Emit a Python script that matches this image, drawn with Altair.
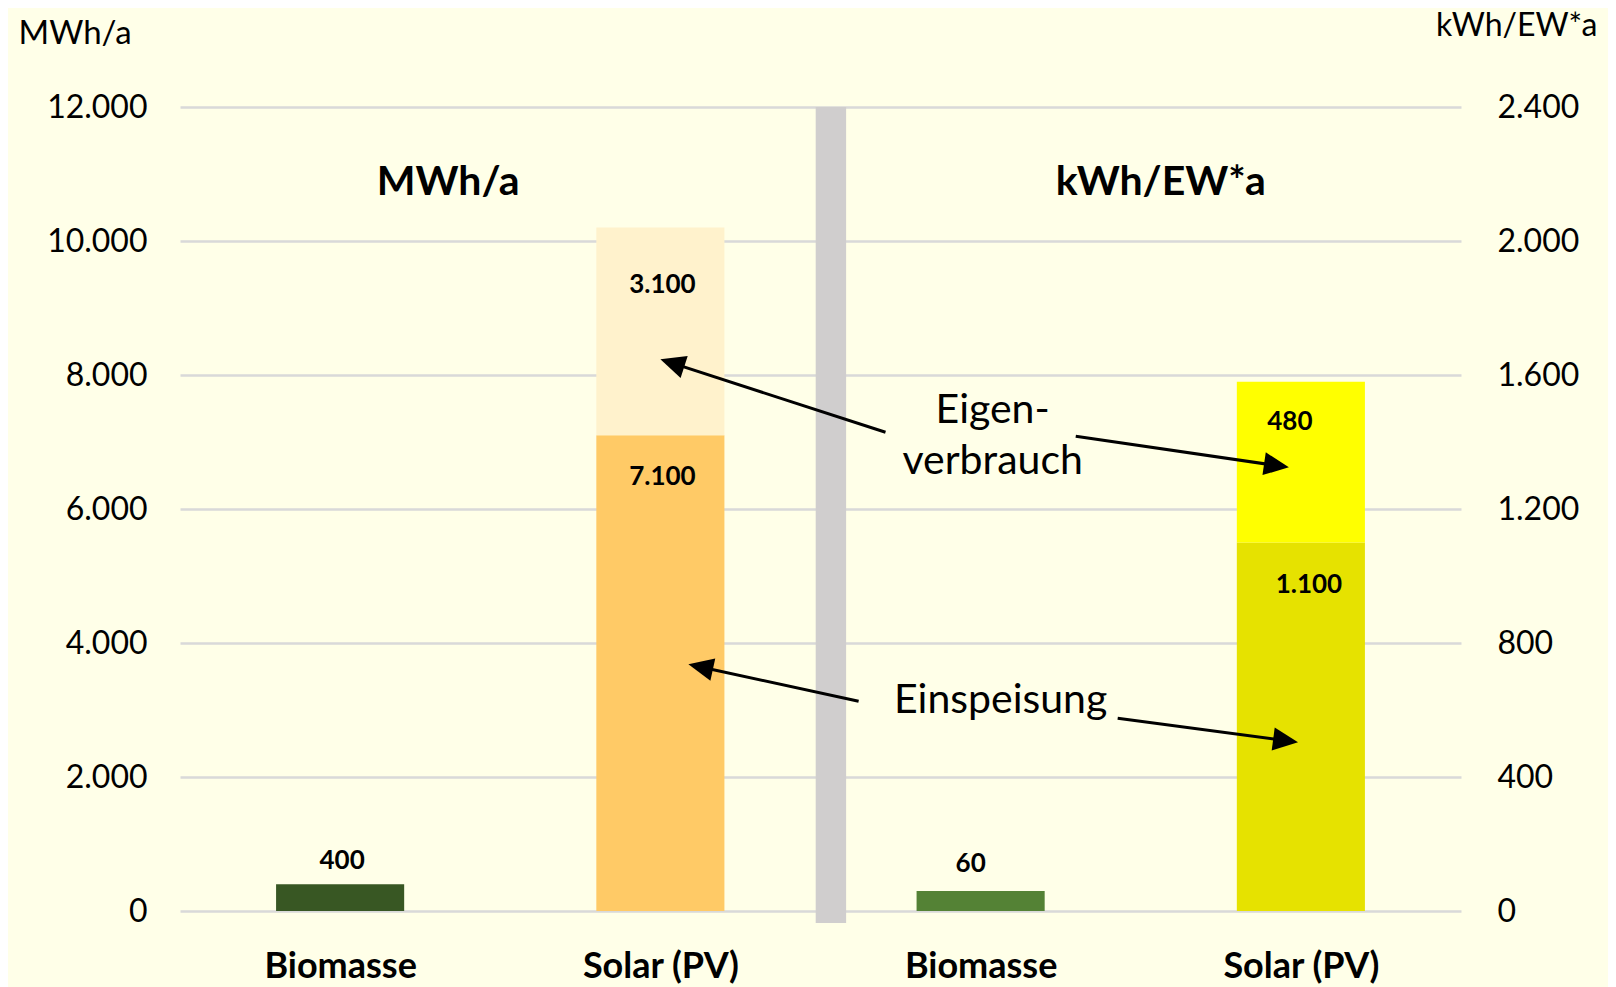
import math
import altair as alt
import pandas as pd

# ---------------- data ----------------
categories = ["Biomasse", "Solar (PV)"]
mwh_einspeisung = [400, 7100]          # MWh/a
mwh_eigenverbrauch = [0, 3100]         # MWh/a
kwh_einspeisung = [60, 1100]           # kWh/EW*a
kwh_eigenverbrauch = [0, 480]          # kWh/EW*a
left_ticks = [0, 2000, 4000, 6000, 8000, 10000, 12000]
right_ticks = [0, 400, 800, 1200, 1600, 2000, 2400]
panel_titles = ["MWh/a", "kWh/EW*a"]
axis_titles = ["MWh/a", "kWh/EW*a"]

# ---------------- style ----------------
FONT = "Lato"
BG = "#FFFFE8"
GRID = "#D9D9D9"
W, H = 1281, 804
LEFT_MAX, RIGHT_MAX = 12000, 2400
BAR_HALF = 0.2
col_left_bio = "#385723"
col_right_bio = "#548235"
col_left_ein, col_left_eig = "#FFCA66", "#FFF2CC"
col_right_ein, col_right_eig = "#E6E200", "#FFFF00"
SEP_COLOR = "#D0CECE"


def de(v):
    return f"{v:,}".replace(",", ".")


pos_left = [0.5, 1.5]
pos_right = [2.5, 3.5]


def bar_rows(pos, ein, eig, bio_col, ein_col, eig_col):
    rows = []
    for i, cat in enumerate(categories):
        c_ein = bio_col if i == 0 else ein_col
        rows.append(dict(cat=cat, x0=pos[i] - BAR_HALF, x1=pos[i] + BAR_HALF,
                         y0=0, y1=ein[i], color=c_ein))
        if eig[i] > 0:
            rows.append(dict(cat=cat, x0=pos[i] - BAR_HALF, x1=pos[i] + BAR_HALF,
                             y0=ein[i], y1=ein[i] + eig[i], color=eig_col))
    return pd.DataFrame(rows)


left_bars = bar_rows(pos_left, mwh_einspeisung, mwh_eigenverbrauch,
                     col_left_bio, col_left_ein, col_left_eig)
right_bars = bar_rows(pos_right, kwh_einspeisung, kwh_eigenverbrauch,
                      col_right_bio, col_right_ein, col_right_eig)

xscale = alt.Scale(domain=[0, 4], nice=False, zero=False)


def yl_scale():
    return alt.Scale(domain=[0, LEFT_MAX], nice=False, zero=True)


def yr_scale():
    return alt.Scale(domain=[0, RIGHT_MAX], nice=False, zero=True)


x_label_expr = ("floor(datum.value) % 2 == 0 ? '" + categories[0] + "' : '"
                + categories[1] + "'")
num_expr = "replace(format(datum.value, ','), ',', '.')"


def x_axis():
    # identical axis definition in every layer so the shared x axis merges cleanly
    return alt.Axis(values=[0.5, 1.5, 2.5, 3.5], labelExpr=x_label_expr, title=None,
                    grid=False, domain=False, ticks=False, orient="bottom",
                    labelFont=FONT, labelFontSize=36, labelFontWeight="bold",
                    labelColor="#000000", labelPadding=38)


def X(field):
    return alt.X(field, scale=xscale, axis=x_axis())


left_axis = alt.Axis(values=left_ticks, labelExpr=num_expr, orient="left",
                     title=axis_titles[0], titleAngle=0, titleAlign="left",
                     titleBaseline="alphabetic", titleX=-162, titleY=-64,
                     titleFont=FONT, titleFontSize=33, titleFontWeight="normal",
                     titleColor="#000000",
                     grid=True, gridColor=GRID, gridWidth=2.5, domain=False,
                     ticks=False, labelPadding=33, labelFont=FONT,
                     labelFontSize=32, labelColor="#000000")

right_axis = alt.Axis(values=right_ticks, labelExpr=num_expr, orient="right",
                      title=axis_titles[1], titleAngle=0, titleAlign="right",
                      titleBaseline="alphabetic", titleX=136, titleY=-72,
                      titleFont=FONT, titleFontSize=32, titleFontWeight="normal",
                      titleColor="#000000",
                      grid=False, domain=False, ticks=False,
                      labelPadding=36, labelFont=FONT, labelFontSize=32,
                      labelColor="#000000")

# ---------------- bars ----------------
right_bar_chart = alt.Chart(right_bars).mark_rect().encode(
    x=X("x0:Q"), x2="x1:Q",
    y=alt.Y("y0:Q", scale=yr_scale(), axis=right_axis), y2="y1:Q",
    color=alt.Color("color:N", scale=None),
)

left_bar_chart = alt.Chart(left_bars).mark_rect().encode(
    x=X("x0:Q"), x2="x1:Q",
    y=alt.Y("y0:Q", scale=yl_scale(), axis=left_axis), y2="y1:Q",
    color=alt.Color("color:N", scale=None),
)

sep_df = pd.DataFrame({"x0": [1.985], "x1": [2.08], "y0": [-180], "y1": [LEFT_MAX]})
separator = alt.Chart(sep_df).mark_rect(color=SEP_COLOR).encode(
    x=X("x0:Q"), x2="x1:Q",
    y=alt.Y("y0:Q", scale=yl_scale(), axis=None), y2="y1:Q",
)


def value_labels(pos, ein, eig, scale_fn, offsets):
    charts = []
    k = 0
    for i in range(len(categories)):
        segs = [(ein[i], ein[i])]
        if eig[i] > 0:
            segs.append((eig[i], ein[i] + eig[i]))
        for val, top in segs:
            dx, dy = offsets[k]
            k += 1
            df = pd.DataFrame({"x": [pos[i]], "y": [top], "t": [de(val)]})
            charts.append(alt.Chart(df).mark_text(
                font=FONT, fontSize=26, fontWeight="bold", color="#000000",
                align="center", baseline="middle", dx=dx, dy=dy).encode(
                x=X("x:Q"),
                y=alt.Y("y:Q", scale=scale_fn(), axis=None),
                text="t:N"))
    return charts


left_labels = value_labels(pos_left, mwh_einspeisung, mwh_eigenverbrauch, yl_scale,
                           [(2, -23), (2, 42), (2, 57)])
right_labels = value_labels(pos_right, kwh_einspeisung, kwh_eigenverbrauch, yr_scale,
                            [(-10, -27), (8, 42), (-11, 40)])

ptitle_df = pd.DataFrame({"x": [0.8375, 3.0625], "y": [10680, 10680], "t": panel_titles})
ptitles = alt.Chart(ptitle_df).mark_text(
    font=FONT, fontSize=41, fontWeight="bold", color="#000000",
    align="center", baseline="alphabetic").encode(
    x=X("x:Q"),
    y=alt.Y("y:Q", scale=yl_scale(), axis=None), text="t:N")

ann_df = pd.DataFrame({"x": [2.5375, 2.5375, 2.5625],
                       "y": [7290, 6520, 2950],
                       "t": ["Eigen-", "verbrauch", "Einspeisung"]})
ann = alt.Chart(ann_df).mark_text(
    font=FONT, fontSize=41, color="#000000", align="center", baseline="alphabetic").encode(
    x=X("x:Q"),
    y=alt.Y("y:Q", scale=yl_scale(), axis=None), text="t:N")

# arrows (tail -> tip), in x units / left-scale units
arrow_tail_x = [2.203, 2.797, 2.119, 2.928]
arrow_tail_y = [7145, 7085, 3130, 2876]
arrow_tip_x = [1.500, 3.4625, 1.5875, 3.491]
arrow_tip_y = [8234, 6622, 3682, 2518]

px_x = W / 4.0
px_y = H / LEFT_MAX
HEAD = 25.0
arows = []
for tx, ty, hx, hy in zip(arrow_tail_x, arrow_tail_y, arrow_tip_x, arrow_tip_y):
    dxp = (hx - tx) * px_x
    dyp = -(hy - ty) * px_y
    L = math.hypot(dxp, dyp)
    ux, uy = dxp / L, dyp / L
    ang = math.degrees(math.atan2(dyp, dxp)) % 360
    ex = hx - ux * (HEAD * 0.6) / px_x
    ey = hy + uy * (HEAD * 0.6) / px_y
    arows.append(dict(tx=tx, ty=ty, ex=ex, ey=ey, hx=hx, hy=hy, ang=ang))
arrow_df = pd.DataFrame(arows)

arrow_lines = alt.Chart(arrow_df).mark_rule(color="#000000", strokeWidth=3).encode(
    x=X("tx:Q"), x2="ex:Q",
    y=alt.Y("ty:Q", scale=yl_scale(), axis=None), y2="ey:Q")

arrow_heads = alt.Chart(arrow_df).mark_point(
    shape="M0,0L-1,-0.46L-1,0.46Z", filled=True, color="#000000", opacity=1,
    size=(2 * HEAD) ** 2, strokeWidth=0).encode(
    x=X("hx:Q"),
    y=alt.Y("hy:Q", scale=yl_scale(), axis=None),
    angle=alt.Angle("ang:Q", scale=None))

chart = alt.layer(
    left_bar_chart, right_bar_chart, separator, *left_labels, *right_labels,
    ptitles, ann, arrow_lines, arrow_heads,
).resolve_scale(y="independent").properties(
    width=W, height=H,
    autosize=alt.AutoSizeParams(type="none"),
    padding={"left": 172, "top": 99, "right": 147, "bottom": 80},
    background=BG,
).configure_view(stroke=None)

chart.save("out.html", embed_options={"renderer": "svg", "actions": False})
